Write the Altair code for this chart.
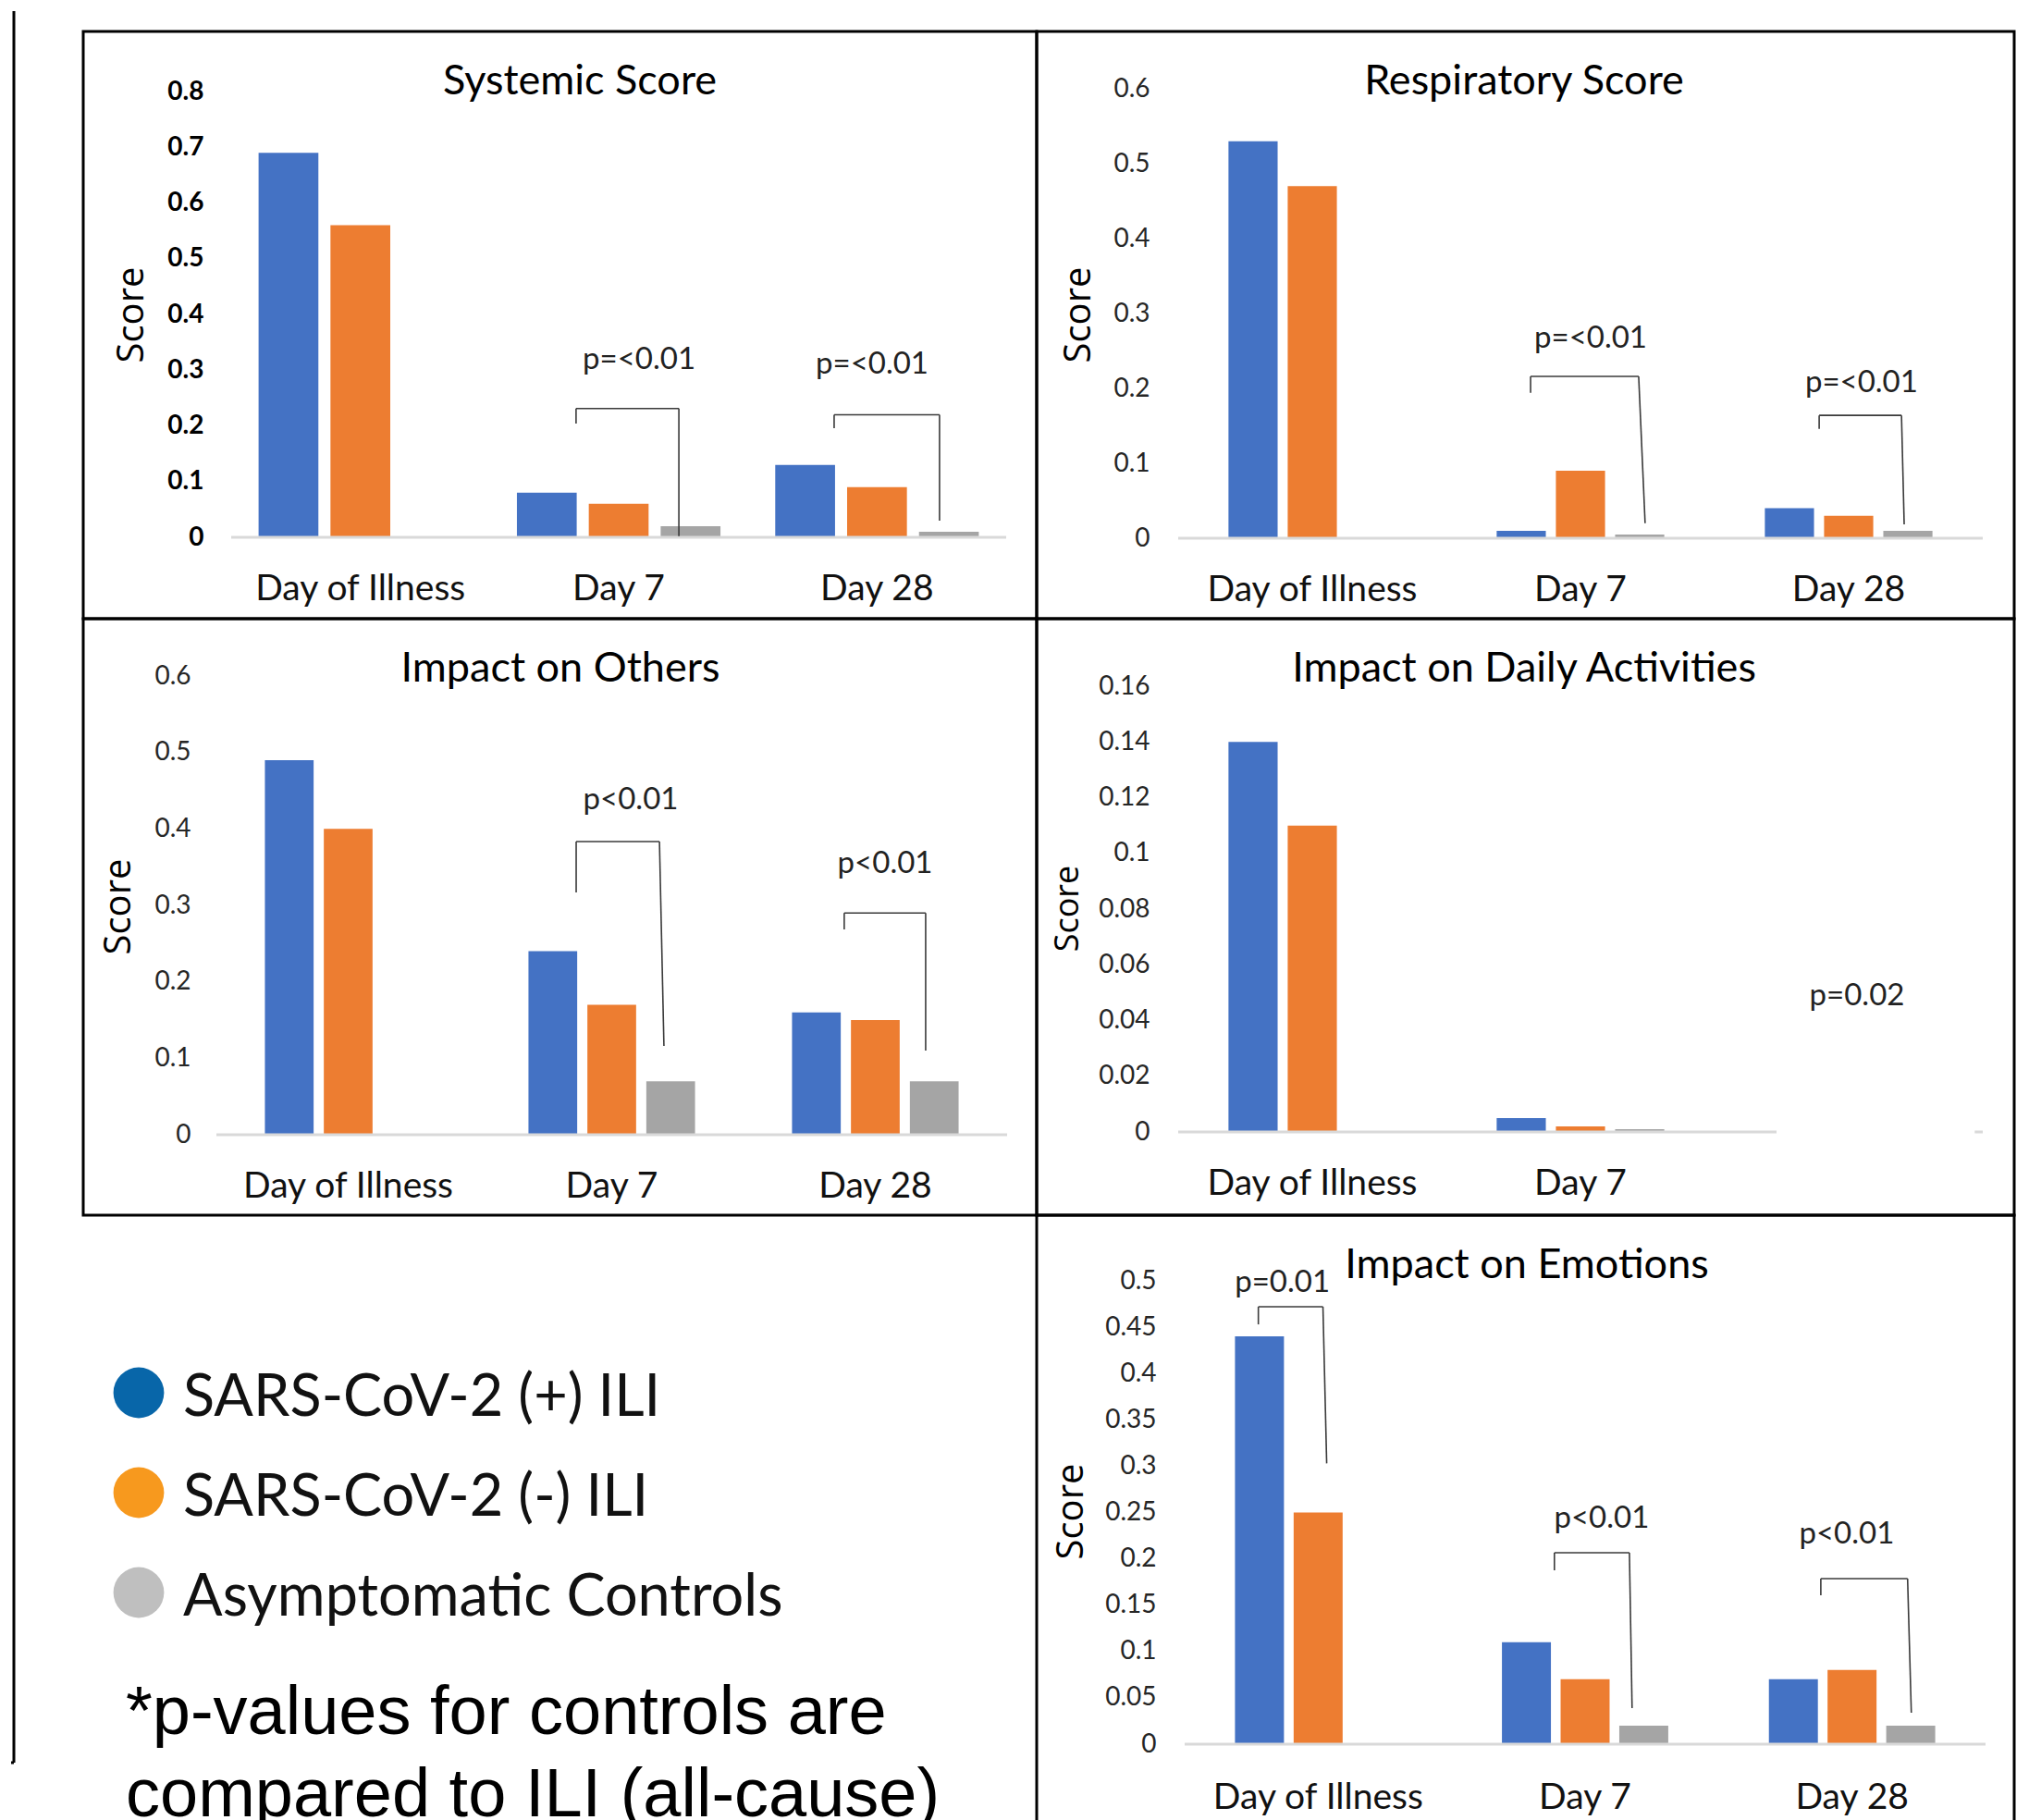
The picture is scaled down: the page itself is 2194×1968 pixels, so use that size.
import altair as alt
import pandas as pd

categories = ["Day of Illness", "Day 7", "Day 28"]
groups = ["SARS-CoV-2 (+) ILI", "SARS-CoV-2 (-) ILI", "Asymptomatic Controls"]
bar_colors = ["#4472C4", "#ED7D31", "#A5A5A5"]
legend_colors = ["#0866A9", "#F7991E", "#BFBFBF"]
footnote_lines = ["*p-values for controls are", "compared to ILI (all-cause)"]

# Systemic Score
systemic_pos = [0.69, 0.08, 0.13]
systemic_neg = [0.56, 0.06, 0.09]
systemic_ctl = [None, 0.02, 0.01]
systemic_ticks = [0, 0.1, 0.2, 0.3, 0.4, 0.5, 0.6, 0.7, 0.8]
# bracket: x_left, x_right_top, x_right_bottom, y_top, y_left_bottom, y_right_bottom (category units / score)
systemic_brackets = [(1.335, 1.733, 1.733, 0.231, 0.204, 0.002),
                     (2.334, 2.742, 2.742, 0.220, 0.196, 0.030)]
systemic_pvals = [("p=<0.01", 1.579, 0.302), ("p=<0.01", 2.481, 0.294)]

# Respiratory Score
resp_pos = [0.53, 0.01, 0.04]
resp_neg = [0.47, 0.09, 0.03]
resp_ctl = [None, 0.005, 0.01]
resp_ticks = [0, 0.1, 0.2, 0.3, 0.4, 0.5, 0.6]
resp_brackets = [(1.314, 1.717, 1.741, 0.216, 0.194, 0.020),
                 (2.390, 2.697, 2.707, 0.164, 0.146, 0.0185)]
resp_pvals = [("p=<0.01", 1.538, 0.254), ("p=<0.01", 2.548, 0.195)]

# Impact on Others
others_pos = [0.49, 0.24, 0.16]
others_neg = [0.40, 0.17, 0.15]
others_ctl = [None, 0.07, 0.07]
others_ticks = [0, 0.1, 0.2, 0.3, 0.4, 0.5, 0.6]
others_brackets = [(1.365, 1.681, 1.698, 0.3835, 0.317, 0.116),
                   (2.382, 2.691, 2.691, 0.290, 0.2685, 0.110)]
others_pvals = [("p<0.01", 1.572, 0.426), ("p<0.01", 2.537, 0.342)]

# Impact on Daily Activities
daily_pos = [0.14, 0.005, None]
daily_neg = [0.11, 0.002, None]
daily_ctl = [None, 0.001, None]
daily_ticks = [0, 0.02, 0.04, 0.06, 0.08, 0.1, 0.12, 0.14, 0.16]
daily_brackets = []
daily_pvals = [("p=0.02", 2.531, 0.0455)]
daily_baseline = [(0, 2.231), (2.97, 3.0)]

# Impact on Emotions
emo_pos = [0.44, 0.11, 0.07]
emo_neg = [0.25, 0.07, 0.08]
emo_ctl = [None, 0.02, 0.02]
emo_ticks = [0, 0.05, 0.1, 0.15, 0.2, 0.25, 0.3, 0.35, 0.4, 0.45, 0.5]
emo_brackets = [(0.276, 0.518, 0.532, 0.472, 0.453, 0.303),
                (1.385, 1.666, 1.676, 0.2066, 0.1876, 0.039),
                (2.383, 2.708, 2.722, 0.1786, 0.1607, 0.034)]
emo_pvals = [("p=0.01", 0.366, 0.488), ("p<0.01", 1.562, 0.2335), ("p<0.01", 2.480, 0.2166)]

full_baseline = [(0, 3)]


def panel(title, series, ymax, ticks, brackets, pvals, base_segs, W, H, xr, yr,
          band_pad, off_pad, lab_right, score_xy, score_size=40, title_dx=0.0,
          bold=False, hidden_label=None, xlab_pad=67):
    bar_rows = []
    for g, vals in zip(groups, series):
        for c, v in zip(categories, vals):
            if v is not None:
                bar_rows.append({"cat": c, "grp": g, "value": v})
    seg_rows = []
    for xl, xrt, xrb, yt, ylb, yrb in brackets:
        seg_rows.append({"x1": xl, "x2": xl, "value": ylb, "value2": yt})
        seg_rows.append({"x1": xl, "x2": xrt, "value": yt, "value2": yt})
        seg_rows.append({"x1": xrt, "x2": xrb, "value": yt, "value2": yrb})
    p_rows = [{"label": t, "x": x, "value": v} for t, x, v in pvals]
    base_rows = [{"x1": a, "x2": b, "value": 0} for a, b in base_segs]

    yscale = alt.Scale(domain=[0, ymax], range=[yr[0], yr[1]], nice=False, zero=True)
    xq = alt.Scale(domain=[0, 3], range=[xr[0], xr[1]], nice=False, zero=False)
    if hidden_label is None:
        label_expr = "datum.label"
    else:
        label_expr = "datum.label == '%s' ? '' : datum.label" % hidden_label

    x_axis = alt.Axis(title=None, orient="bottom", offset=-(H - yr[0]), domain=False,
                      ticks=False, tickSize=0, grid=False, labelPadding=xlab_pad,
                      labelBaseline="alphabetic", labelAngle=0, labelFont="Lato",
                      labelFontSize=39, labelColor="#111111", labelLimit=1000,
                      labelOverlap=False, labelExpr=label_expr)
    y_axis = alt.Axis(title="Score", orient="left", offset=-lab_right, values=ticks,
                      format=".2~f", domain=False, ticks=False, tickSize=0, grid=False,
                      labelPadding=0, labelBaseline="middle", labelAlign="right",
                      labelFont="Lato", labelFontSize=28,
                      labelFontWeight="bold" if bold else "normal",
                      labelColor="#000000" if bold else "#262626",
                      labelOverlap=False, labelLimit=1000,
                      titleFont="Open Sans", titleFontSize=score_size,
                      titleFontWeight="normal", titleColor="#000000", titleAngle=270,
                      titleAlign="center", titleBaseline="middle",
                      titleX=score_xy[0] - lab_right, titleY=score_xy[1])
    yenc = alt.Y("value:Q", scale=yscale, axis=y_axis, title="Score")

    bars = alt.Chart(pd.DataFrame(bar_rows)).mark_bar().encode(
        x=alt.X("cat:N", sort=categories,
                scale=alt.Scale(domain=categories, range=[xr[0], xr[1]],
                                paddingInner=band_pad, paddingOuter=band_pad / 2),
                axis=x_axis),
        xOffset=alt.XOffset("grp:N", sort=groups,
                            scale=alt.Scale(domain=groups, paddingInner=off_pad, paddingOuter=0)),
        y=yenc,
        color=alt.Color("grp:N", scale=alt.Scale(domain=groups, range=bar_colors), legend=None),
    )
    base = alt.Chart(pd.DataFrame(base_rows)).mark_rule(color="#D9D9D9", strokeWidth=3).encode(
        x=alt.X("x1:Q", scale=xq, axis=None),
        x2="x2:Q",
        y=yenc,
    )
    layers = [bars, base]
    if seg_rows:
        br = alt.Chart(pd.DataFrame(seg_rows)).mark_rule(color="#3A3A3A", strokeWidth=1.6).encode(
            x=alt.X("x1:Q", scale=xq, axis=None),
            x2="x2:Q",
            y=yenc,
            y2="value2:Q",
        )
        layers.append(br)
    pv = alt.Chart(pd.DataFrame(p_rows)).mark_text(
        font="Lato", fontSize=33, baseline="alphabetic", align="center", color="#222222"
    ).encode(
        x=alt.X("x:Q", scale=xq, axis=None),
        y=yenc,
        text="label:N",
    )
    layers.append(pv)
    return alt.layer(*layers).resolve_scale(x="independent").properties(
        width=W, height=H,
        title=alt.TitleParams(text=title, anchor="middle", frame="group", offset=-113,
                              baseline="alphabetic", dx=title_dx, font="Lato",
                              fontSize=45, fontWeight="normal", color="#000000"),
    )


p1 = panel("Systemic Score", [systemic_pos, systemic_neg, systemic_ctl], 0.8, systemic_ticks,
           systemic_brackets, systemic_pvals, full_baseline, 1031, 635, (160, 998), (547, 65),
           0.212, 0.168, 130, (52, 306), title_dx=21.5, bold=True)
p2 = panel("Respiratory Score", [resp_pos, resp_neg, resp_ctl], 0.6, resp_ticks,
           resp_brackets, resp_pvals, full_baseline, 1057, 635, (153, 1023), (548, 62),
           0.375, 0.17, 122, (45, 306), title_dx=-1.5)
p3 = panel("Impact on Others", [others_pos, others_neg, others_ctl], 0.6, others_ticks,
           others_brackets, others_pvals, full_baseline, 1031, 645, (144, 999), (558, 62),
           0.368, 0.173, 116, (38, 311), title_dx=0.5)
p4 = panel("Impact on Daily Activities", [daily_pos, daily_neg, daily_ctl], 0.16, daily_ticks,
           daily_brackets, daily_pvals, daily_baseline, 1057, 645, (153, 1023), (555, 73),
           0.375, 0.17, 122, (33, 313), score_size=36, title_dx=-1.5, hidden_label="Day 28")
p5 = panel("Impact on Emotions", [emo_pos, emo_neg, emo_ctl], 0.5, emo_ticks,
           emo_brackets, emo_pvals, full_baseline, 1057, 680, (160, 1026), (572, 71),
           0.377, 0.165, 129, (37, 320), title_dx=1.5, xlab_pad=69)

# legend cell
leg_df = pd.DataFrame({"grp": groups})
ly = alt.Y("grp:N", sort=groups,
           scale=alt.Scale(type="point", domain=groups, range=[192, 408], padding=0), axis=None)
dots = alt.Chart(leg_df).mark_circle(size=3000, opacity=1).encode(
    x=alt.value(60), y=ly,
    color=alt.Color("grp:N", scale=alt.Scale(domain=groups, range=legend_colors), legend=None),
)
names = alt.Chart(leg_df).mark_text(
    align="left", baseline="alphabetic", dy=25, font="Lato", fontSize=63, color="#111111"
).encode(x=alt.value(108), y=ly, text="grp:N")
dummy = pd.DataFrame({"k": [0]})
note = alt.Chart(dummy).mark_text(
    align="left", baseline="alphabetic", font="Liberation Sans", fontSize=74,
    lineHeight=89, color="#000000"
).encode(x=alt.value(46), y=alt.value(561), text=alt.value(footnote_lines))
legend_cell = alt.layer(dots, names, note).properties(
    width=1031, height=680, view=alt.ViewBackground(stroke="transparent"))

grid = alt.concat(p1, p2, p3, p4, legend_cell, p5, columns=2, spacing=0, bounds="flush").resolve_scale(
    color="independent", xOffset="independent", x="independent", y="independent")

vline = alt.Chart(dummy).mark_rule(color="#000000", strokeWidth=3).encode(
    x=alt.value(5), y=alt.value(2), y2=alt.value(1896))
hline = alt.Chart(dummy).mark_rule(color="#000000", strokeWidth=3).encode(
    x=alt.value(2), x2=alt.value(5), y=alt.value(1896))
strip = alt.layer(vline, hline).properties(
    width=80, height=1984, view=alt.ViewBackground(stroke="transparent"))
spacer = alt.Chart(dummy).mark_point(opacity=0).encode(
    x=alt.value(100), y=alt.value(12)).properties(
    width=2088, height=24, view=alt.ViewBackground(stroke="transparent"))

chart = alt.hconcat(
    strip,
    alt.vconcat(spacer, grid, spacing=0, bounds="flush"),
    spacing=0, bounds="flush",
).properties(padding=0, background="white").configure_view(stroke="#000000", strokeWidth=3)

chart.save("out.html", embed_options={"renderer": "svg", "actions": False})
